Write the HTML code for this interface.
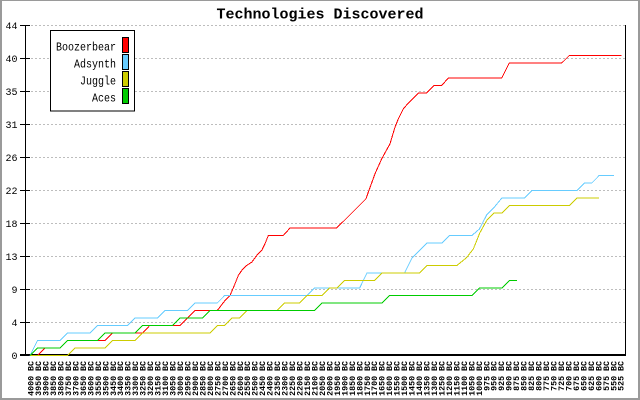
<!DOCTYPE html>
<html><head><meta charset="utf-8"><style>
html,body{margin:0;padding:0;background:#fff;}
svg{display:block;}
text{font-family:"Liberation Mono","DejaVu Sans Mono",monospace;fill:#000;}
</style></head><body>
<svg width="640" height="400" viewBox="0 0 640 400" xmlns="http://www.w3.org/2000/svg">
<rect x="0" y="0" width="640" height="400" fill="#fff"/>
<!-- outer border -->
<rect x="0" y="0" width="640" height="1" fill="#9a9a9a"/>
<rect x="0" y="0" width="2" height="400" fill="#9a9a9a"/>
<rect x="638" y="0" width="2" height="400" fill="#9a9a9a"/>
<rect x="0" y="398" width="640" height="2" fill="#9a9a9a"/>

<text x="320" y="18.5" text-anchor="middle" font-size="15" font-weight="bold">Technologies Discovered</text>

<!-- gridlines -->
<g stroke="#bdbdbd" stroke-width="1" stroke-dasharray="2,2" shape-rendering="crispEdges">
<line x1="31" y1="25.5" x2="625" y2="25.5"/>
<line x1="31" y1="58.5" x2="625" y2="58.5"/>
<line x1="31" y1="91.5" x2="625" y2="91.5"/>
<line x1="31" y1="124.5" x2="625" y2="124.5"/>
<line x1="31" y1="157.5" x2="625" y2="157.5"/>
<line x1="31" y1="190.5" x2="625" y2="190.5"/>
<line x1="31" y1="223.5" x2="625" y2="223.5"/>
<line x1="31" y1="256.5" x2="625" y2="256.5"/>
<line x1="31" y1="289.5" x2="625" y2="289.5"/>
<line x1="31" y1="322.5" x2="625" y2="322.5"/>
</g>

<!-- axes -->
<g fill="#000">
<rect x="25" y="25" width="1" height="331"/>
<rect x="625" y="25" width="1" height="331"/>
<rect x="20" y="354" width="606" height="2"/>
<rect x="20" y="25" width="10" height="1"/>
<rect x="20" y="58" width="10" height="1"/>
<rect x="20" y="91" width="10" height="1"/>
<rect x="20" y="124" width="10" height="1"/>
<rect x="20" y="157" width="10" height="1"/>
<rect x="20" y="190" width="10" height="1"/>
<rect x="20" y="223" width="10" height="1"/>
<rect x="20" y="256" width="10" height="1"/>
<rect x="20" y="289" width="10" height="1"/>
<rect x="20" y="322" width="10" height="1"/>
</g>

<!-- y labels -->
<g font-size="10" text-anchor="end">
<text x="17.5" y="29">44</text>
<text x="17.5" y="62">40</text>
<text x="17.5" y="95">35</text>
<text x="17.5" y="128">31</text>
<text x="17.5" y="161">26</text>
<text x="17.5" y="194">22</text>
<text x="17.5" y="227">18</text>
<text x="17.5" y="260">13</text>
<text x="17.5" y="293">9</text>
<text x="17.5" y="326">4</text>
<text x="17.5" y="359">0</text>
</g>

<!-- data -->
<g fill="none" stroke-width="1" shape-rendering="crispEdges" stroke-linejoin="miter" transform="translate(0,0.5)">
<polyline stroke="#ff0000" points="30,355 37.5,355 45,347.5 60,347.5 67.5,340 104.9,340 112.4,332.5 142.4,332.5 149.8,325 179.8,325 187.3,317.5 194.8,310 217.3,310 225,300 230,295 235,283.3 238.3,275 241.7,270 246.7,265 251.7,261.7 256.7,255 261.7,250 265,243.3 268.3,235 283.3,235 290,227.5 336.7,227.5 366,198.3 368.3,191.7 375,173.3 381.7,158.3 390,143.3 395,126.7 398.3,118.3 403.3,108.3 408.3,102.7 418.3,92.5 426.7,92.5 434,85 441.7,85 448.3,77.5 501.7,77.5 509.3,62.5 561.7,62.5 569.3,55 621.7,55"/>
<polyline stroke="#66ccff" points="30,355 37.5,340 60,340 67.5,332.5 89.9,332.5 97.4,325 127.4,325 134.9,317.5 157.3,317.5 164.8,310 187.3,310 194.8,302.5 217.3,302.5 224.7,295 307.1,295 314.6,287.5 359.6,287.5 367,272.5 404.5,272.5 412,257.5 419.5,250 427,242.5 442,242.5 449.4,235 471.9,235 479.4,228.5 486.9,214 494.4,206.5 501.9,197.5 524.3,197.5 531.8,190 576.8,190 584.3,182.5 591.8,182.5 599.2,175 614.2,175"/>
<polyline stroke="#cccc00" points="30,355 67.5,355 74.9,347.5 104.9,347.5 112.4,340 134.9,340 142.4,332.5 209.8,332.5 217.3,325 224.7,325 232.2,317.5 239.7,317.5 247.2,310 277.2,310 284.7,302.5 299.6,302.5 307.1,295 322.1,295 329.6,287.5 337.1,287.5 344.6,280 374.5,280 382,272.5 419.5,272.5 427,265 456.9,265 466.7,257 473.3,248.5 480,232 486.7,220 494,212.5 501.9,212.5 509.4,205 569.3,205 576.8,197.5 599.2,197.5"/>
<polyline stroke="#00cc00" points="30,355 37.5,347.5 60,347.5 67.5,340 97.4,340 104.9,332.5 134.9,332.5 142.4,325 172.3,325 179.8,317.5 202.3,317.5 209.8,310 314.6,310 322.1,302.5 382,302.5 389.5,295 471.9,295 479.4,287.5 501.9,287.5 509.4,280 516.9,280"/>
</g>

<!-- legend -->
<rect x="50.5" y="30.5" width="84" height="80.5" fill="#fff" stroke="#000" stroke-width="1"/>
<g font-size="12">
<text x="56" y="50.5" textLength="60" lengthAdjust="spacingAndGlyphs">Boozerbear</text>
<text x="74" y="67.5" textLength="42" lengthAdjust="spacingAndGlyphs">Adsynth</text>
<text x="80" y="84.5" textLength="36" lengthAdjust="spacingAndGlyphs">Juggle</text>
<text x="92" y="101.5" textLength="24" lengthAdjust="spacingAndGlyphs">Aces</text>
</g>
<g stroke="#000" stroke-width="1">
<rect x="122.5" y="37.5" width="6" height="15" fill="#ff0000"/>
<rect x="122.5" y="54.5" width="6" height="15" fill="#66ccff"/>
<rect x="122.5" y="71.5" width="6" height="15" fill="#cccc00"/>
<rect x="122.5" y="88.5" width="6" height="15" fill="#00cc00"/>
</g>

<!-- x labels -->
<g font-size="8.3" font-weight="bold" text-anchor="end" transform="translate(1,0)">
<text transform="translate(32.6,361) rotate(-90)">4000 BC</text>
<text transform="translate(40.07,361) rotate(-90)">3950 BC</text>
<text transform="translate(47.54,361) rotate(-90)">3900 BC</text>
<text transform="translate(55.01,361) rotate(-90)">3850 BC</text>
<text transform="translate(62.48,361) rotate(-90)">3800 BC</text>
<text transform="translate(69.95,361) rotate(-90)">3750 BC</text>
<text transform="translate(77.42,361) rotate(-90)">3700 BC</text>
<text transform="translate(84.89,361) rotate(-90)">3650 BC</text>
<text transform="translate(92.36,361) rotate(-90)">3600 BC</text>
<text transform="translate(99.83,361) rotate(-90)">3550 BC</text>
<text transform="translate(107.3,361) rotate(-90)">3500 BC</text>
<text transform="translate(114.77,361) rotate(-90)">3450 BC</text>
<text transform="translate(122.24,361) rotate(-90)">3400 BC</text>
<text transform="translate(129.71,361) rotate(-90)">3350 BC</text>
<text transform="translate(137.18,361) rotate(-90)">3300 BC</text>
<text transform="translate(144.65,361) rotate(-90)">3250 BC</text>
<text transform="translate(152.12,361) rotate(-90)">3200 BC</text>
<text transform="translate(159.59,361) rotate(-90)">3150 BC</text>
<text transform="translate(167.06,361) rotate(-90)">3100 BC</text>
<text transform="translate(174.53,361) rotate(-90)">3050 BC</text>
<text transform="translate(182,361) rotate(-90)">3000 BC</text>
<text transform="translate(189.47,361) rotate(-90)">2950 BC</text>
<text transform="translate(196.94,361) rotate(-90)">2900 BC</text>
<text transform="translate(204.41,361) rotate(-90)">2850 BC</text>
<text transform="translate(211.88,361) rotate(-90)">2800 BC</text>
<text transform="translate(219.35,361) rotate(-90)">2750 BC</text>
<text transform="translate(226.82,361) rotate(-90)">2700 BC</text>
<text transform="translate(234.29,361) rotate(-90)">2650 BC</text>
<text transform="translate(241.76,361) rotate(-90)">2600 BC</text>
<text transform="translate(249.23,361) rotate(-90)">2550 BC</text>
<text transform="translate(256.7,361) rotate(-90)">2500 BC</text>
<text transform="translate(264.17,361) rotate(-90)">2450 BC</text>
<text transform="translate(271.64,361) rotate(-90)">2400 BC</text>
<text transform="translate(279.11,361) rotate(-90)">2350 BC</text>
<text transform="translate(286.58,361) rotate(-90)">2300 BC</text>
<text transform="translate(294.05,361) rotate(-90)">2250 BC</text>
<text transform="translate(301.52,361) rotate(-90)">2200 BC</text>
<text transform="translate(308.99,361) rotate(-90)">2150 BC</text>
<text transform="translate(316.46,361) rotate(-90)">2100 BC</text>
<text transform="translate(323.93,361) rotate(-90)">2050 BC</text>
<text transform="translate(331.4,361) rotate(-90)">2000 BC</text>
<text transform="translate(338.87,361) rotate(-90)">1950 BC</text>
<text transform="translate(346.34,361) rotate(-90)">1900 BC</text>
<text transform="translate(353.81,361) rotate(-90)">1850 BC</text>
<text transform="translate(361.28,361) rotate(-90)">1800 BC</text>
<text transform="translate(368.75,361) rotate(-90)">1750 BC</text>
<text transform="translate(376.22,361) rotate(-90)">1700 BC</text>
<text transform="translate(383.69,361) rotate(-90)">1650 BC</text>
<text transform="translate(391.16,361) rotate(-90)">1600 BC</text>
<text transform="translate(398.63,361) rotate(-90)">1550 BC</text>
<text transform="translate(406.1,361) rotate(-90)">1500 BC</text>
<text transform="translate(413.57,361) rotate(-90)">1450 BC</text>
<text transform="translate(421.04,361) rotate(-90)">1400 BC</text>
<text transform="translate(428.51,361) rotate(-90)">1350 BC</text>
<text transform="translate(435.98,361) rotate(-90)">1300 BC</text>
<text transform="translate(443.45,361) rotate(-90)">1250 BC</text>
<text transform="translate(450.92,361) rotate(-90)">1200 BC</text>
<text transform="translate(458.39,361) rotate(-90)">1150 BC</text>
<text transform="translate(465.86,361) rotate(-90)">1100 BC</text>
<text transform="translate(473.33,361) rotate(-90)">1050 BC</text>
<text transform="translate(480.8,361) rotate(-90)">1000 BC</text>
<text transform="translate(488.27,361) rotate(-90)">975 BC</text>
<text transform="translate(495.74,361) rotate(-90)">950 BC</text>
<text transform="translate(503.21,361) rotate(-90)">925 BC</text>
<text transform="translate(510.68,361) rotate(-90)">900 BC</text>
<text transform="translate(518.15,361) rotate(-90)">875 BC</text>
<text transform="translate(525.62,361) rotate(-90)">850 BC</text>
<text transform="translate(533.09,361) rotate(-90)">825 BC</text>
<text transform="translate(540.56,361) rotate(-90)">800 BC</text>
<text transform="translate(548.03,361) rotate(-90)">775 BC</text>
<text transform="translate(555.5,361) rotate(-90)">750 BC</text>
<text transform="translate(562.97,361) rotate(-90)">725 BC</text>
<text transform="translate(570.44,361) rotate(-90)">700 BC</text>
<text transform="translate(577.91,361) rotate(-90)">675 BC</text>
<text transform="translate(585.38,361) rotate(-90)">650 BC</text>
<text transform="translate(592.85,361) rotate(-90)">625 BC</text>
<text transform="translate(600.32,361) rotate(-90)">600 BC</text>
<text transform="translate(607.79,361) rotate(-90)">575 BC</text>
<text transform="translate(615.26,361) rotate(-90)">550 BC</text>
<text transform="translate(622.73,361) rotate(-90)">525 BC</text>
</g>
</svg>
</body></html>
